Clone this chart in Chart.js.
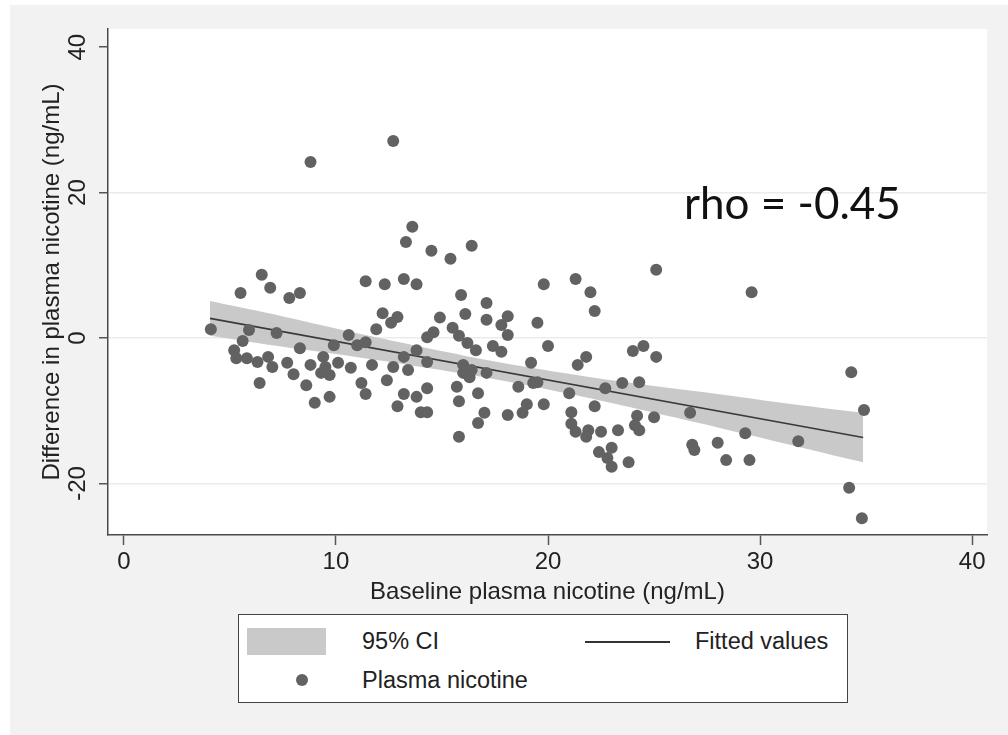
<!DOCTYPE html>
<html>
<head>
<meta charset="utf-8">
<script src="https://cdn.jsdelivr.net/npm/chart.js@4.4.1/dist/chart.umd.min.js"></script>
<style>
body { margin: 0; background: #fff; }
#wrap { position: relative; width: 1008px; height: 735px; font-family: "Liberation Sans", Arial, sans-serif; color: #222; }
#rho { position: absolute; left: 684px; top: 176px; font: 44px Lato, "Open Sans", sans-serif; line-height: 52px; color: #111; }
#legend { position: absolute; left: 238px; top: 614px; width: 610px; height: 89px; box-sizing: border-box; border: 1.5px solid #444; background: #fff; font-size: 23.5px; }
#legend div { position: absolute; }
.lbl { line-height: 28px; white-space: nowrap; }
</style>
</head>
<body>
<div id="wrap">
  <canvas id="chart" width="1008" height="735"></canvas>
  <div id="rho">rho = -0.45</div>
  <div id="legend">
    <div style="left:8px;top:13px;width:79px;height:27px;background:#c9c9c9"></div>
    <div class="lbl" style="left:123px;top:12px">95% CI</div>
    <div style="left:346px;top:26px;width:85px;height:1.5px;background:#333"></div>
    <div class="lbl" style="left:456px;top:12px">Fitted values</div>
    <div style="left:57px;top:59px;width:12px;height:12px;border-radius:50%;background:#626262"></div>
    <div class="lbl" style="left:123px;top:51px">Plasma nicotine</div>
  </div>
</div>
<script>
// baseline plasma nicotine (x) vs difference (y)
const baseline = [6.5, 6.9, 5.5, 7.8, 8.3, 4.1, 5.9, 7.2, 5.6, 5.2, 8.3, 5.3, 5.8, 6.3, 6.8, 7.0, 7.7, 8.0, 6.4,
  11.4, 12.3, 13.2, 13.8, 15.9, 16.1, 17.1, 17.1, 12.2, 12.9, 12.6, 11.9, 14.9, 14.6, 14.3, 15.5, 15.8, 16.2, 16.6,
  10.6, 11.0, 11.4, 9.9, 9.4, 8.8, 9.5, 10.1, 10.7, 9.3, 9.7, 11.7, 12.7, 13.4, 13.2, 13.8, 14.3, 16.0, 16.0, 16.3,
  16.4, 17.1, 12.4, 11.2, 11.4, 8.6, 9.7, 9.0, 13.2, 14.3, 13.8, 12.9, 14.0, 14.3, 15.7, 15.8, 16.7, 17.0, 16.7, 15.8,
  25.1, 19.8, 21.3, 22.0, 22.2, 18.1, 17.8, 18.1, 19.5, 20.0, 17.4, 17.8, 19.2, 21.4, 21.8, 24.0, 24.5, 25.1,
  18.6, 19.3, 19.5, 21.0, 22.7, 23.5, 24.3, 19.0, 19.8, 18.8, 18.1, 22.2, 21.1, 21.1, 21.3, 21.9, 21.8, 22.5, 23.3,
  24.2, 24.3, 24.1, 25.0, 26.7, 26.8, 26.9, 22.4, 23.0, 22.8, 23.0, 23.8,
  29.6, 34.3, 34.9, 29.3, 31.8, 28.0, 28.4, 29.5, 34.2, 34.8, 8.8, 12.7, 13.6, 13.3, 14.5, 16.4, 15.4];
const difference = [8.7, 6.9, 6.2, 5.5, 6.2, 1.2, 1.1, 0.7, -0.4, -1.7, -1.4, -2.8, -2.8, -3.3, -2.6, -4.0, -3.4, -5.0, -6.2,
  7.8, 7.4, 8.1, 7.4, 5.9, 3.3, 4.8, 2.5, 3.4, 2.9, 2.1, 1.2, 2.8, 0.8, 0.1, 1.4, 0.3, -0.7, -1.7,
  0.4, -1.0, -0.6, -1.0, -2.6, -3.7, -4.0, -3.4, -4.1, -4.8, -5.1, -3.7, -4.0, -4.4, -2.6, -1.7, -3.3, -3.7, -4.8, -5.4,
  -4.4, -4.8, -5.8, -6.2, -7.7, -6.5, -8.1, -8.9, -7.7, -6.9, -8.1, -9.4, -10.2, -10.2, -6.7, -8.7, -7.6, -10.3, -11.7, -13.6,
  9.4, 7.4, 8.1, 6.3, 3.7, 3.0, 1.8, 0.4, 2.1, -1.1, -1.1, -1.9, -3.4, -3.7, -2.6, -1.8, -1.1, -2.6,
  -6.7, -6.2, -6.1, -7.6, -6.9, -6.2, -6.1, -9.1, -9.1, -10.3, -10.6, -9.4, -10.2, -11.8, -12.9, -12.7, -13.6, -12.9, -12.7,
  -10.7, -12.7, -12.0, -10.9, -10.3, -14.7, -15.4, -15.7, -15.1, -16.5, -17.7, -17.1,
  6.3, -4.7, -9.9, -13.1, -14.2, -14.4, -16.8, -16.8, -20.6, -24.8, 24.2, 27.1, 15.3, 13.2, 12.0, 12.7, 10.9];

// linear fit and its 95% CI
const fitX = [4.06, 34.86];
const fitY = [2.7, -13.7];
const ciX = [4.06, 7, 10, 13, 16, 19, 22, 25, 28, 31, 34.86];
const ciUpper = [5.1, 3.3, 1.3, -0.6, -2.4, -4.0, -5.4, -6.6, -7.7, -8.9, -10.3];
const ciLower = [0.3, -1.0, -2.2, -3.5, -4.9, -6.5, -8.3, -10.3, -12.3, -14.4, -17.1];

const xTicks = [0, 10, 20, 30, 40];
const yTicks = [-20, 0, 20, 40];

const pts = (xs, ys) => xs.map((x, i) => ({ x: x, y: ys[i] }));

const background = {
  id: 'background',
  beforeDraw(chart) {
    const { ctx, chartArea: a } = chart;
    ctx.save();
    ctx.fillStyle = '#ffffff';
    ctx.fillRect(0, 0, chart.width, chart.height);
    ctx.fillStyle = '#f2f2f2';
    ctx.fillRect(10, 5, chart.width - 10, chart.height - 5);
    ctx.fillStyle = '#ffffff';
    ctx.fillRect(a.left, a.top, a.right - a.left, a.bottom - a.top);
    ctx.restore();
  }
};

const font = { family: '"Liberation Sans", Arial, sans-serif', size: 24 };

new Chart(document.getElementById('chart'), {
  type: 'scatter',
  data: {
    datasets: [
      { label: 'Plasma nicotine', data: pts(baseline, difference), backgroundColor: '#626262', pointRadius: 6, pointBorderWidth: 0 },
      { type: 'line', label: 'Fitted values', data: pts(fitX, fitY), borderColor: '#3a3a3a', borderWidth: 1.6, pointRadius: 0, fill: false },
      { type: 'line', label: '95% CI', data: pts(ciX, ciUpper), borderWidth: 0, borderColor: 'rgba(0,0,0,0)', backgroundColor: '#c9c9c9', pointRadius: 0, tension: 0.3, fill: '+1' },
      { type: 'line', label: '95% CI lower', data: pts(ciX, ciLower), borderWidth: 0, borderColor: 'rgba(0,0,0,0)', pointRadius: 0, tension: 0.3, fill: false }
    ]
  },
  options: {
    responsive: false,
    animation: false,
    devicePixelRatio: 1,
    layout: { padding: { left: 0, right: 21, top: 29, bottom: 120 } },
    plugins: { legend: { display: false }, tooltip: { enabled: false } },
    scales: {
      x: {
        type: 'linear', min: -0.75, max: 40.7,
        afterBuildTicks: s => { s.ticks = xTicks.map(v => ({ value: v })); },
        afterFit: s => { s.height = 80; },
        grid: { drawOnChartArea: false, tickLength: 10, tickColor: '#555', tickWidth: 1.5 },
        border: { color: '#4a4a4a', width: 1.5 },
        ticks: { font: font, color: '#222', padding: 3, maxRotation: 0 },
        title: { display: true, text: 'Baseline plasma nicotine (ng/mL)', font: font, color: '#222', padding: { top: 0, bottom: 8 } }
      },
      y: {
        type: 'linear', min: -27.1, max: 42.5,
        afterBuildTicks: s => { s.ticks = yTicks.map(v => ({ value: v })); },
        afterFit: s => { s.width = 108; },
        grid: {
          color: c => (c.tick && c.tick.value === 40 ? 'rgba(0,0,0,0)' : '#ebebeb'),
          lineWidth: 1.5, tickLength: 9, tickColor: '#555', tickWidth: 1.5
        },
        border: { color: '#4a4a4a', width: 1.5 },
        ticks: { font: font, color: '#222', padding: 3, minRotation: 90, maxRotation: 90, crossAlign: 'center' },
        title: { display: true, text: 'Difference in plasma nicotine (ng/mL)', font: font, color: '#222', padding: { top: 38, bottom: 0 } }
      }
    }
  },
  plugins: [background]
});
</script>
</body>
</html>
